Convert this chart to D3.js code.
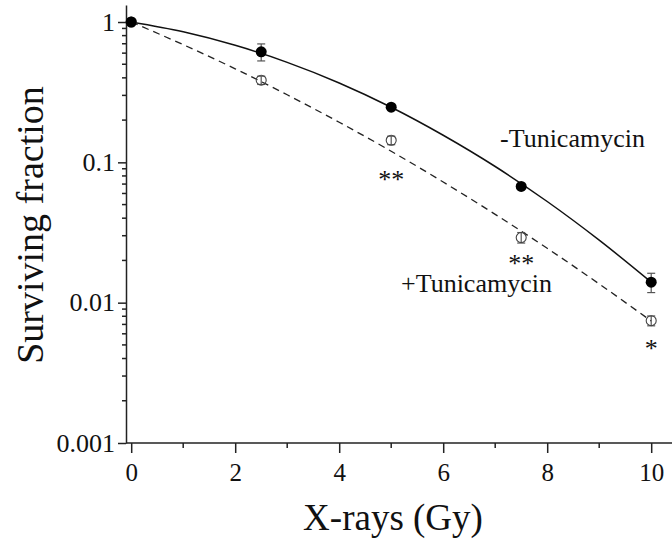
<!DOCTYPE html>
<meta charset="utf-8">
<style>
    body { margin: 0; background: #fff; }
    .axis path, .axis line { stroke: #222; stroke-width: 1.5; }
</style>
<body>
<script src="https://cdn.jsdelivr.net/npm/d3@7"></script>
<script>

    var width = 672,
        height = 546;
    var serif = "'Liberation Serif', 'Times New Roman', serif";

    // measured points (dose in Gy)
    var doses = [0, 2.5, 5, 7.5, 10];
    var withoutTm = [1, 0.613, 0.247, 0.0674, 0.0140];
    var withoutTmErr = [0, 0.085, 0.006, 0.003, 0.0022];
    var withTm = [1, 0.385, 0.1436, 0.0291, 0.00744];
    var withTmErr = [0, 0.026, 0.010, 0.0025, 0.0006];

    // fitted curves
    var fitDoses = [0, 1, 2, 3, 4, 5, 6, 7, 8, 9, 10];
    var fitWithout = [1, 0.851, 0.682, 0.516, 0.368, 0.247, 0.156, 0.0934, 0.0526, 0.0279, 0.0140];
    var fitWith = [1, 0.690, 0.464, 0.303, 0.193, 0.120, 0.0724, 0.0426, 0.0244, 0.0136, 0.0074];

    var xTicks = [0, 2, 4, 6, 8, 10];
    var yTicks = [1, 0.1, 0.01, 0.001];
    var yTickLabels = ["1", "0.1", "0.01", "0.001"];

    // significance marks: [dose, label, y value of the text baseline]
    var stars = [[5, "**", 0.0655], [7.5, "**", 0.0166], [10, "*", 0.00413]];

    var svg = d3.select("body").append("svg")
        .attr("width", width)
        .attr("height", height);

    var x = d3.scaleLinear().domain([-0.1, 10.4]).range([126, 672]);
    var y = d3.scaleLog().domain([0.001, 1.322]).range([443, 5]);

    // x axis
    var xAxis = svg.append("g")
        .attr("class", "axis")
        .attr("transform", "translate(0,443)")
        .call(d3.axisBottom(x).tickValues(xTicks).tickSize(10).tickSizeOuter(0).tickFormat(d3.format("d")));
    xAxis.selectAll("text").attr("y", 20).attr("dy", "0.71em")
        .style("font-size", "25px").style("font-family", serif).attr("fill", "#111");
    xAxis.selectAll(".minor").data([1, 3, 5, 7, 9]).enter().append("line")
        .attr("class", "minor")
        .attr("x1", function(d) { return x(d); })
        .attr("x2", function(d) { return x(d); })
        .attr("y1", 0).attr("y2", 5);
    xAxis.select(".domain").attr("d", "M126,0H672");

    // y axis
    var minors = [];
    [0.001, 0.01, 0.1].forEach(function(p) {
        for (var k = 2; k <= 9; k++) minors.push(p * k);
    });
    var yAxis = svg.append("g")
        .attr("class", "axis")
        .attr("transform", "translate(126,0)")
        .call(d3.axisLeft(y).tickValues(yTicks).tickSize(8).tickSizeOuter(0)
            .tickFormat(function(d, i) { return yTickLabels[i]; }));
    yAxis.selectAll("text").attr("x", -11)
        .style("font-size", "26px").style("font-family", serif).attr("fill", "#111");
    yAxis.selectAll(".minor").data(minors).enter().append("line")
        .attr("class", "minor")
        .attr("y1", function(d) { return y(d); })
        .attr("y2", function(d) { return y(d); })
        .attr("x1", 0).attr("x2", -4);

    // fitted lines
    var line = d3.line()
        .x(function(d) { return x(d[0]); })
        .y(function(d) { return y(d[1]); })
        .curve(d3.curveMonotoneX);

    svg.append("path")
        .datum(d3.zip(fitDoses, fitWithout))
        .attr("d", line)
        .attr("fill", "none")
        .attr("stroke", "#111")
        .attr("stroke-width", 1.5);

    svg.append("path")
        .datum(d3.zip(fitDoses, fitWith))
        .attr("d", line)
        .attr("fill", "none")
        .attr("stroke", "#222")
        .attr("stroke-width", 1.3)
        .attr("stroke-dasharray", "7,5");

    function errorBars(vals, errs) {
        var g = svg.append("g").attr("stroke", "#555").attr("stroke-width", 1.2);
        var data = d3.zip(doses, vals, errs).filter(function(d) { return d[2] > 0; });
        g.selectAll(".v").data(data).enter().append("line")
            .attr("x1", function(d) { return x(d[0]); })
            .attr("x2", function(d) { return x(d[0]); })
            .attr("y1", function(d) { return y(d[1] + d[2]); })
            .attr("y2", function(d) { return y(d[1] - d[2]); });
        [1, -1].forEach(function(s) {
            g.selectAll(".c" + s).data(data).enter().append("line")
                .attr("x1", function(d) { return x(d[0]) - 4; })
                .attr("x2", function(d) { return x(d[0]) + 4; })
                .attr("y1", function(d) { return y(d[1] + s * d[2]); })
                .attr("y2", function(d) { return y(d[1] + s * d[2]); });
        });
    }

    errorBars(withTm, withTmErr);
    errorBars(withoutTm, withoutTmErr);

    svg.selectAll(".open").data(d3.zip(doses, withTm)).enter().append("circle")
        .attr("cx", function(d) { return x(d[0]); })
        .attr("cy", function(d) { return y(d[1]); })
        .attr("r", 5)
        .attr("fill", "none")
        .attr("stroke", "#444")
        .attr("stroke-width", 1.1);

    svg.selectAll(".filled").data(d3.zip(doses, withoutTm)).enter().append("circle")
        .attr("cx", function(d) { return x(d[0]); })
        .attr("cy", function(d) { return y(d[1]); })
        .attr("r", 5.5)
        .attr("fill", "#000");

    function label(xp, yp, size, txt) {
        return svg.append("text")
            .attr("x", xp).attr("y", yp)
            .attr("fill", "#111")
            .style("font-family", serif)
            .style("font-size", size + "px")
            .text(txt);
    }

    stars.forEach(function(s) {
        label(x(s[0]), y(s[2]), 26, s[1]).attr("text-anchor", "middle");
    });

    label(500, 147, 26, "-Tunicamycin");
    label(401, 292, 26, "+Tunicamycin");

    label(393, 530, 37, "X-rays (Gy)").attr("text-anchor", "middle");

    label(0, 0, 38, "Surviving fraction")
        .attr("transform", "translate(43,225) rotate(-90)")
        .attr("text-anchor", "middle");

</script>
